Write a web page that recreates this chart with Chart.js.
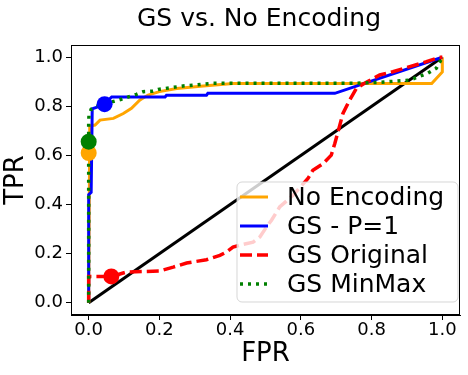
<!DOCTYPE html>
<html>
<head>
<meta charset="utf-8">
<script src="https://cdn.jsdelivr.net/npm/chart.js@4.4.0/dist/chart.umd.min.js"></script>
<style>
    html, body { margin: 0; padding: 0; background: #fff; }
    #wrap { width: 468px; height: 375px; }
</style>
</head>
<body>
<div id="wrap"><canvas id="roc" width="468" height="375"></canvas></div>
<script>
// ROC curves
const noEncFpr = [0, 0.003, 0.018, 0.032, 0.07, 0.098, 0.121, 0.145, 0.168, 0.2, 0.249, 0.324, 0.408, 0.97, 1.0, 1.0];
const noEncTpr = [0, 0.72, 0.724, 0.744, 0.751, 0.771, 0.792, 0.826, 0.846, 0.86, 0.873, 0.883, 0.893, 0.893, 0.94, 1.0];

const gsP1Fpr = [0, 0, 0.007, 0.01, 0.03, 0.045, 0.065, 0.216, 0.22, 0.333, 0.337, 0.696, 1.0];
const gsP1Tpr = [0, 0.44, 0.45, 0.79, 0.80, 0.81, 0.838, 0.838, 0.845, 0.845, 0.853, 0.853, 1.0];

const gsOrigFpr = [0, 0, 0.065, 0.107, 0.2, 0.239, 0.277, 0.333, 0.371, 0.39, 0.408, 0.437, 0.465, 0.484, 0.503, 0.517,
    0.54, 0.578, 0.62, 0.634, 0.663, 0.686, 0.696, 0.705, 0.719, 0.738, 0.757, 0.78, 0.823, 0.86, 0.908, 0.955, 0.992, 1.0];
const gsOrigTpr = [0, 0.107, 0.107, 0.125, 0.129, 0.145, 0.162, 0.175, 0.193, 0.207, 0.227, 0.238, 0.247, 0.268, 0.309, 0.336,
    0.39, 0.438, 0.506, 0.54, 0.567, 0.601, 0.649, 0.696, 0.771, 0.826, 0.873, 0.894, 0.928, 0.941, 0.962, 0.982, 1.0, 1.0];

const gsMinMaxFpr = [0, 0, 0.001, 0.007, 0.037, 0.05, 0.092, 0.135, 0.154, 0.18, 0.197, 0.267, 0.352, 0.75, 0.823, 0.908, 0.959, 0.983, 1.0];
const gsMinMaxTpr = [0, 0.737, 0.765, 0.788, 0.81, 0.812, 0.829, 0.849, 0.86, 0.862, 0.869, 0.883, 0.894, 0.894, 0.898, 0.907, 0.935, 0.955, 1.0];

const diagFpr = [0, 1];
const diagTpr = [0, 1];

// chosen operating points (big dots)
const markerNames = ["No Encoding", "GS - P=1", "GS Original", "GS MinMax"];
const markerFpr = [0, 0.045, 0.064, 0];
const markerTpr = [0.61, 0.809, 0.107, 0.656];

const xTicks = [0, 0.2, 0.4, 0.6, 0.8, 1.0];
const yTicks = [0, 0.2, 0.4, 0.6, 0.8, 1.0];

const FONT = "'DejaVu Sans', sans-serif";

let toPoints = (xs, ys) => xs.map((x, i) => ({x: x, y: ys[i]}));

let lineSet = (label, xs, ys, color, dash, width, order) => ({
    label: label,
    data: toPoints(xs, ys),
    showLine: true,
    borderColor: color,
    backgroundColor: color,
    borderWidth: width,
    borderDash: dash,
    pointRadius: 0,
    tension: 0,
    order: order
});

const colors = ["orange", "blue", "red", "green"];
const markerSets = markerNames.map((n, i) => ({
    data: [{x: markerFpr[i], y: markerTpr[i]}],
    showLine: false,
    pointRadius: 8,
    pointBorderWidth: 0,
    backgroundColor: colors[i],
    borderColor: colors[i],
    order: 5 - i
}));

const datasets = [
    lineSet(null, diagFpr, diagTpr, "black", [], 3, 10),
    lineSet("No Encoding", noEncFpr, noEncTpr, "orange", [], 3, 9),
    lineSet("GS - P=1", gsP1Fpr, gsP1Tpr, "blue", [], 3, 8),
    lineSet("GS Original", gsOrigFpr, gsOrigTpr, "red", [12, 5], 3.5, 7),
    lineSet("GS MinMax", gsMinMaxFpr, gsMinMaxTpr, "green", [3, 5], 3.5, 6),
    ...markerSets
];

// title, frame and the see-through legend, drawn on the canvas
const decor = {
    id: "decor",
    afterDatasetsDraw(chart) {
        const ctx = chart.ctx;
        const a = chart.chartArea;
        ctx.save();
        ctx.strokeStyle = "#000";
        ctx.lineWidth = 1;
        ctx.strokeRect(a.left + 0.5, a.top + 0.5, a.right - a.left - 1, a.bottom - a.top - 1);

        // legend box
        const bx = 237, by = 182, bw = 221, bh = 120;
        ctx.beginPath();
        ctx.roundRect(bx, by, bw, bh, 5);
        ctx.fillStyle = "rgba(255,255,255,0.8)";
        ctx.fill();
        ctx.strokeStyle = "rgba(204,204,204,0.8)";
        ctx.stroke();

        const items = chart.data.datasets.filter(d => d.label);
        items.forEach((d, i) => {
            const y = 197 + i * 29;
            ctx.beginPath();
            ctx.setLineDash(d.borderDash);
            ctx.strokeStyle = d.borderColor;
            ctx.lineWidth = d.borderWidth;
            ctx.moveTo(240, y);
            ctx.lineTo(268, y);
            ctx.stroke();
            ctx.setLineDash([]);
            ctx.fillStyle = "#000";
            ctx.font = "25px " + FONT;
            ctx.textAlign = "left";
            ctx.textBaseline = "middle";
            ctx.fillText(d.label, 287, y + 1);
        });

        ctx.font = "25px " + FONT;
        ctx.textAlign = "center";
        ctx.textBaseline = "alphabetic";
        ctx.fillText("GS vs. No Encoding", 259, 26);
        ctx.restore();
    }
};

new Chart(document.getElementById("roc"), {
    type: "scatter",
    data: {datasets: datasets},
    plugins: [decor],
    options: {
        responsive: false,
        animation: false,
        layout: {padding: {top: 45, right: 7, left: 0, bottom: 0}},
        plugins: {legend: {display: false}, tooltip: {enabled: false}},
        scales: {
            x: {
                type: "linear",
                min: -0.05,
                max: 1.05,
                afterBuildTicks: s => { s.ticks = xTicks.map(v => ({value: v})); },
                afterFit: s => { s.height = 60; s.paddingLeft = 0; s.paddingRight = 0; },
                ticks: {color: "#000", font: {family: FONT, size: 18}, padding: 0, callback: v => v.toFixed(1)},
                grid: {display: true, drawOnChartArea: false, drawTicks: true, tickLength: 5, color: "#000"},
                border: {display: true, color: "#000"},
                title: {display: true, text: "FPR", color: "#000", font: {family: FONT, size: 26}, padding: {top: 0, bottom: 5}}
            },
            y: {
                type: "linear",
                min: -0.05,
                max: 1.05,
                afterBuildTicks: s => { s.ticks = yTicks.map(v => ({value: v})); },
                afterFit: s => { s.width = 71; s.paddingTop = 0; s.paddingBottom = 0; },
                ticks: {color: "#000", font: {family: FONT, size: 18}, padding: 3, callback: v => v.toFixed(1)},
                grid: {display: true, drawOnChartArea: false, drawTicks: true, tickLength: 5, color: "#000"},
                border: {display: true, color: "#000"},
                title: {display: true, text: "TPR", color: "#000", font: {family: FONT, size: 26}, padding: {top: 1, bottom: 0}}
            }
        }
    }
});
</script>
</body>
</html>
